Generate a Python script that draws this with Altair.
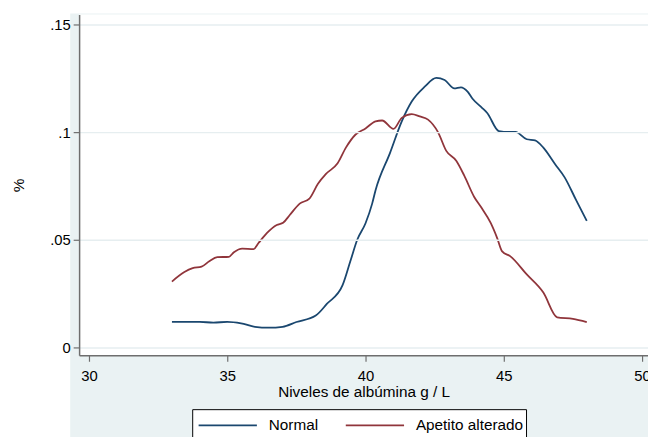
import altair as alt
import pandas as pd

# ---- data ----
normal_x = [33.0, 34.0, 34.5, 35.0, 35.5, 36.0, 36.5, 37.0, 37.5, 38.2, 38.6,
            39.17, 39.45, 39.7, 40.0, 40.24, 40.36, 40.89, 41.31, 41.67, 42.14,
            42.56, 42.86, 43.21, 43.45, 43.69, 43.87, 44.22, 44.4, 44.82, 45.18,
            45.42, 45.83, 46.13, 46.43, 46.85, 47.2, 47.62, 48.0]
normal_y = [.0119, .0119, .0115, .0119, .0112, .0096, .0092, .0096, .0118, .0148, .0202,
            .0289, .0400, .0500, .0577, .0668, .0729, .0905, .1050, .1142, .1211,
            .1252, .1242, .1203, .1208, .1188, .1155, .1112, .1089, .1005, .1001,
            .1001, .0967, .0962, .0928, .0852, .0790, .0683, .0588]

red_x = [33.0, 33.45, 33.75, 34.07, 34.35, 34.64, 35.06, 35.24, 35.54, 35.95, 36.13,
         36.43, 36.79, 37.02, 37.26, 37.62, 37.97, 38.28, 38.57, 38.99, 39.29, 39.64,
         40.0, 40.36, 40.6, 41.01, 41.31, 41.67, 41.96, 42.26, 42.62, 42.92, 43.28,
         43.57, 43.93, 44.17, 44.53, 44.76, 44.94, 45.24, 45.83, 46.43, 46.93, 47.5, 48.0]
red_y = [.0306, .0350, .0368, .0375, .0400, .0419, .0421, .0442, .0459, .0457, .0485,
         .0531, .0569, .0579, .0615, .0668, .0691, .0760, .0806, .0855, .0928, .0989,
         .1017, .1050, .1054, .1015, .1066, .1084, .1073, .1058, .1000, .0913, .0867,
         .0798, .0699, .0653, .0577, .0508, .0446, .0423, .0339, .0255, .0140, .0133, .0118]

series = ["Normal", "Apetito alterado"]
colors = ["#1a476f", "#90353b"]
x_ticks = [30, 35, 40, 45, 50]
y_ticks = [0, 0.05, 0.1, 0.15]

df = pd.concat([
    pd.DataFrame({"x": normal_x, "y": normal_y, "grupo": series[0], "o": range(len(normal_x))}),
    pd.DataFrame({"x": red_x, "y": red_y, "grupo": series[1], "o": range(len(red_x))}),
])

W, H = 576, 345
FONT = "Liberation Sans"
one = pd.DataFrame({"a": [0]})

# graph region (light blue) and plot region (white)
region = alt.Chart(one).mark_rect(fill="#eaf2f3").encode(
    x=alt.value(-9), x2=alt.value(W + 20), y=alt.value(-1), y2=alt.value(H + 100))
plotreg = alt.Chart(one).mark_rect(fill="white").encode(
    x=alt.value(0), x2=alt.value(W + 20), y=alt.value(0), y2=alt.value(H))

lines = alt.Chart(df).mark_line(strokeWidth=1.8, interpolate="monotone").encode(
    x=alt.X("x:Q",
            scale=alt.Scale(domain=[29.643, 50.214], nice=False, zero=False),
            axis=alt.Axis(values=x_ticks, title="Niveles de albúmina g / L",
                          titleY=42, titleBaseline="alphabetic",
                          labelPadding=7, tickSize=6, grid=False, zindex=1)),
    y=alt.Y("y:Q",
            scale=alt.Scale(domain=[-0.00367, 0.15459], nice=False, zero=False),
            axis=alt.Axis(values=y_ticks, title="%",
                          labelExpr="datum.value == 0 ? '0' : substring(format(datum.value, '.2~f'), 1)",
                          titleX=-61, titleY=172.5, titleAngle=-90,
                          titleBaseline="middle", titleAlign="center",
                          labelPadding=3, tickSize=6, grid=True, zindex=1)),
    color=alt.Color("grupo:N", scale=alt.Scale(domain=series, range=colors), legend=None),
    order="o:Q",
)

# legend (Stata style box below the axis title)
LX, LY = 115, 400          # box top-left, in plot-area pixels
ROW = 16                   # entry centre below box top
entry_x = [6, 155]         # line start of each entry, relative to box
legend_layers = [
    alt.Chart(one).mark_rect(fill="white", stroke="black", strokeWidth=1).encode(
        x=alt.value(LX), x2=alt.value(LX + 338), y=alt.value(LY), y2=alt.value(LY + 40))
]
for name, col, ex in zip(series, colors, entry_x):
    legend_layers.append(
        alt.Chart(one).mark_rule(color=col, strokeWidth=1.8).encode(
            x=alt.value(LX + ex), x2=alt.value(LX + ex + 59), y=alt.value(LY + ROW)))
    legend_layers.append(
        alt.Chart(one).mark_text(text=name, align="left", baseline="middle",
                                 font=FONT, fontSize=15.5, color="black").encode(
            x=alt.value(LX + ex + 71), y=alt.value(LY + ROW)))

chart = alt.layer(region, plotreg, lines, *legend_layers).properties(
    width=W, height=H,
    autosize=alt.AutoSizeParams(type="none"),
    padding={"left": 72, "top": 4, "right": 0, "bottom": 80},
    background="white",
).configure_view(stroke=None).configure_axis(
    domainColor="#6e6e6e", domainWidth=1.5,
    tickColor="#6e6e6e", tickWidth=1.2,
    gridColor="#e6eef0", gridWidth=1.5,
    labelFont=FONT, labelFontSize=15, labelColor="black",
    titleFont=FONT, titleFontSize=15.5, titleColor="black", titleFontWeight="normal",
)

chart.save("out.html", embed_options={"renderer": "svg", "actions": False})
